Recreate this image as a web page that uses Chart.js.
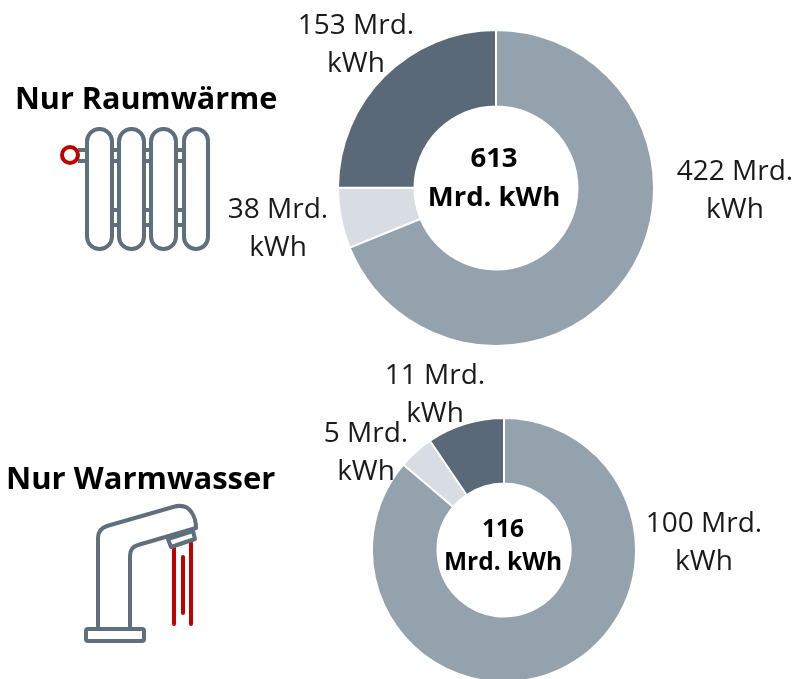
<!DOCTYPE html>
<html lang="de">
<head>
<meta charset="utf-8">
<title>Raumwärme und Warmwasser</title>
<script src="https://cdn.jsdelivr.net/npm/chart.js@4/dist/chart.umd.min.js"></script>
<style>
    html, body { margin: 0; padding: 0; background: #fff; }
    #page { position: relative; width: 796px; height: 679px; overflow: hidden; font-family: "Open Sans", sans-serif; color: #1a1a1a; }
    #page canvas { position: absolute; }
    #chartHeat { left: 336px; top: 28px; }
    #chartWater { left: 370px; top: 416px; }
    .label { position: absolute; font-size: 28px; line-height: 38px; text-align: center; white-space: nowrap; transform: translateX(-50%); }
    .total { position: absolute; font-weight: 700; text-align: center; white-space: nowrap; transform: translateX(-50%); color: #000; }
    .title { position: absolute; font-weight: 700; white-space: nowrap; color: #000; }
    svg { position: absolute; left: 0; top: 0; }
</style>
</head>
<body>
<div id="page">
    <canvas id="chartHeat" width="320" height="320"></canvas>
    <canvas id="chartWater" width="268" height="268"></canvas>

    <svg width="796" height="679" fill="none" stroke-linejoin="round">
        <!-- radiator -->
        <g stroke="#5f6f7c" stroke-width="4">
            <rect x="87" y="129" width="25" height="120" rx="12.5"/>
            <rect x="119" y="129" width="25" height="120" rx="12.5"/>
            <rect x="151" y="129" width="25" height="120" rx="12.5"/>
            <rect x="184" y="129" width="24" height="120" rx="12"/>
            <path d="M78 150H87M78 161H87M112 150H119M112 161H119M144 150H151M144 161H151M176 150H184M176 161H184"/>
            <path d="M112 210H119M112 225H119M144 210H151M144 225H151M176 210H184M176 225H184"/>
        </g>
        <circle cx="70" cy="155" r="8" stroke="#c00000" stroke-width="4" fill="#fff"/>
        <!-- tap -->
        <g stroke="#c00000" stroke-width="4" stroke-linecap="round">
            <path d="M174 547V624M183 557V613M191 543V624"/>
        </g>
        <g stroke="#5f6f7c" stroke-width="4" stroke-linecap="round">
            <path d="M98 628V538Q98 529 107 526L173 507Q186 503 192 513Q196 519 196 528L138 545Q130 547 130 556V628"/>
            <path d="M168 539L193 531L195 539L171 547Z" fill="#fff"/>
            <rect x="86" y="629" width="58" height="12" rx="2"/>
        </g>
    </svg>

    <div class="title" style="left:15px;top:76px;font-size:30.6px">Nur Raumwärme</div>
    <div class="title" style="left:6px;top:456px;font-size:31px">Nur Warmwasser</div>

    <div class="label" id="heat0" style="left:735px;top:150px"></div>
    <div class="label" id="heat1" style="left:278px;top:188px"></div>
    <div class="label" id="heat2" style="left:356px;top:4px"></div>
    <div class="label" id="water0" style="left:704px;top:502px"></div>
    <div class="label" id="water1" style="left:366px;top:412px"></div>
    <div class="label" id="water2" style="left:435px;top:354px"></div>

    <div class="total" id="heatTotal" style="left:494px;top:137px;font-size:27.5px;line-height:39px"></div>
    <div class="total" id="waterTotal" style="left:503px;top:511px;font-size:24.5px;line-height:33px"></div>
</div>

<script>
// Values, in Mrd. kWh
const categories = ['Anteil 1', 'Anteil 2', 'Anteil 3'];
const heatValues = [422, 38, 153];
const waterValues = [100, 5, 11];
const heatTotal = 613;
const waterTotal = 116;
const sliceColors = ['#94a2ae', '#d7dde3', '#596978'];

// Helper function to create one doughnut
function createDoughnut(canvasId, values, radius, cutout) {
    new Chart(document.getElementById(canvasId), {
        type: 'doughnut',
        data: {
            labels: categories,
            datasets: [{
                data: values,
                backgroundColor: sliceColors,
                borderColor: '#ffffff',
                borderWidth: 2,
                borderAlign: 'center'
            }]
        },
        options: {
            responsive: false,
            animation: false,
            radius: radius,
            cutout: cutout,
            layout: { padding: 0 },
            plugins: {
                legend: { display: false },
                tooltip: { enabled: false }
            }
        }
    });
}

// Labels are written as two lines, like the reference
function fillLabels(prefix, values) {
    values.forEach((value, i) => {
        document.getElementById(prefix + i).innerHTML = `${value} Mrd.<br>kWh`;
    });
}

createDoughnut('chartHeat', heatValues, 158, 82);
createDoughnut('chartWater', waterValues, 132, 67);
fillLabels('heat', heatValues);
fillLabels('water', waterValues);
document.getElementById('heatTotal').innerHTML = `${heatTotal}<br>Mrd. kWh`;
document.getElementById('waterTotal').innerHTML = `${waterTotal}<br>Mrd. kWh`;
</script>
</body>
</html>
